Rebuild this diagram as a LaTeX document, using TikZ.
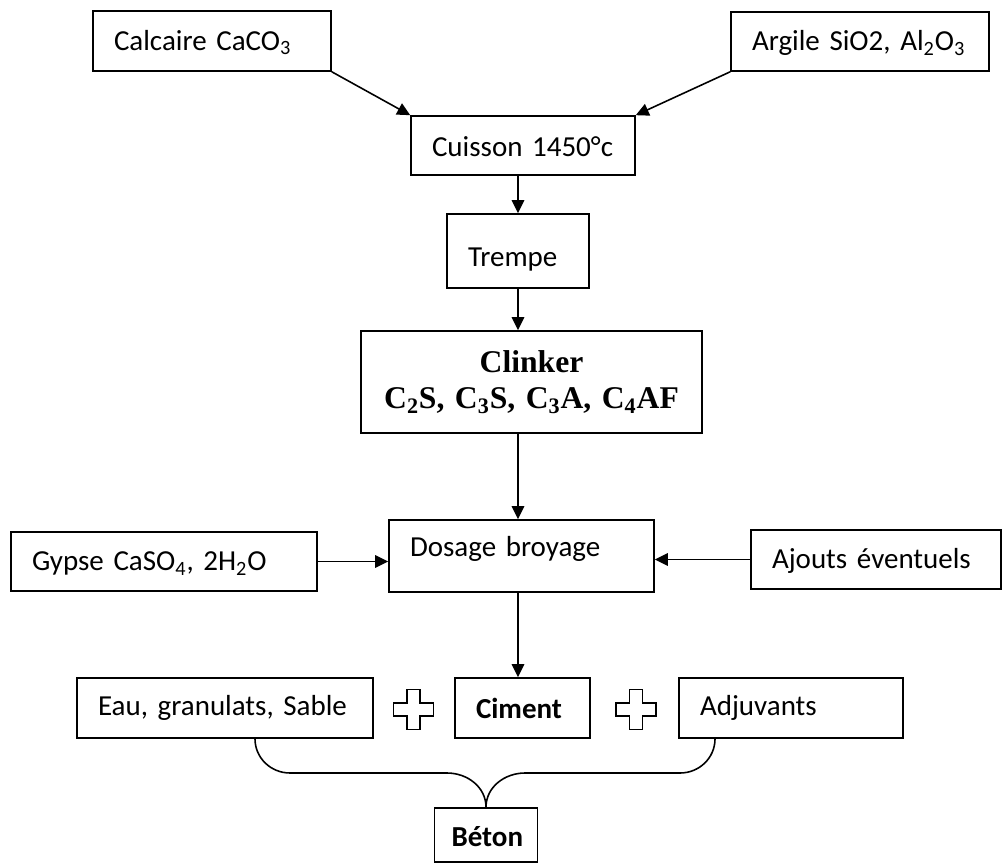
\documentclass[tikz,border=0pt]{standalone}
\usepackage{fontspec}
\setmainfont{Carlito}
\newfontfamily\tnr{Liberation Serif}
\usetikzlibrary{arrows.meta}

\begin{document}
\begin{tikzpicture}
  [x=0.02cm,y=-0.02cm,
   every node/.style={draw,line width=0.9pt,inner xsep=0.42cm,inner ysep=0pt,align=left,
                      font=\fontsize{16.5}{19}\selectfont},
   flow/.style={line width=0.9pt,-{Triangle[length=0.26cm,width=0.25cm]}}]
    \useasboundingbox (0,0) rectangle (1003,864);

    \node (calc) [text width=3.92cm,minimum height=1.2cm,text height=0.46cm]  at (212,41) {Calcaire CaCO\textsubscript{3}};
    \node (arg)  [text width=4.32cm,minimum height=1.18cm,text height=0.46cm] at (860,41.5) {Argile SiO2, Al\textsubscript{2}O\textsubscript{3}};
    \node (cuis) [text width=3.64cm,minimum height=1.18cm,text height=0.46cm] at (523,145.5) {Cuisson 1450°c};
    \node (trem) [text width=2.0cm,minimum height=1.48cm,text height=0.72cm] at (518,251) {Trempe};
    \node (clink)[align=center,text width=6.82cm,inner xsep=0pt,minimum height=2.04cm,
                  font=\tnr\bfseries\fontsize{18}{21}\selectfont] at (531.5,382)
                 {Clinker\\C\textsubscript{2}S, C\textsubscript{3}S, C\textsubscript{3}A, C\textsubscript{4}AF};
    \node (dos)  [text width=4.46cm,minimum height=1.44cm,text depth=0.4cm] at (521.5,556) {Dosage broyage};
    \node (gyp)  [text width=5.28cm,minimum height=1.18cm,text height=0.46cm] at (164,561.5) {Gypse CaSO\textsubscript{4}, 2H\textsubscript{2}O};
    \node (ajo)  [text width=4.16cm,minimum height=1.18cm,text height=0.46cm] at (876,559.5) {Ajouts éventuels};
    \node (eau)  [text width=5.08cm,minimum height=1.2cm]  at (225,708)   {Eau, granulats, Sable};
    \node (cim)  [text width=1.86cm,minimum height=1.2cm]  at (522.5,708) {\textbf{Ciment}};
    \node (adj)  [text width=3.64cm,minimum height=1.2cm]  at (791,708)   {Adjuvants};
    \node (bet)  [text width=1.38cm,minimum height=1.08cm,inner xsep=0.34cm,text height=0.46cm] at (486,835) {\textbf{Béton}};

    \draw[flow] (calc.south east) -- (cuis.north west);
    \draw[flow] (arg.south west) -- (cuis.north east);
    \draw[flow] (cuis.south -| trem) -- (trem.north);
    \draw[flow] (trem.south) -- (clink.north -| trem);
    \draw[flow] (clink.south -| trem) -- (dos.north -| trem);
    \draw[flow] (gyp.east) -- (gyp.east -| dos.west);
    \draw[flow] (ajo.west) -- (ajo.west -| dos.east);
    \draw[flow] (dos.south -| trem) -- (cim.north -| trem);

    % plus signs
    \foreach \px in {413.5,636}
      \draw[line width=0.9pt] (\px-6.5,689.5) -- ++(13,0) -- ++(0,13.5) -- ++(13.5,0) -- ++(0,13)
        -- ++(-13.5,0) -- ++(0,13.5) -- ++(-13,0) -- ++(0,-13.5) -- ++(-13.5,0) -- ++(0,-13)
        -- ++(13.5,0) -- cycle;

    % brace
    \coordinate (bl) at ([xshift=0.6cm]eau.south);
    \coordinate (br) at ([xshift=-1.52cm]adj.south);
    \draw[line width=0.9pt] (bl) to[out=-90,in=180] (290,773) -- (447,773) to[out=0,in=90] (bet.north)
      to[out=90,in=180] (525,773) -- (680,773) to[out=0,in=-90] (br);
  \end{tikzpicture}
\end{document}
